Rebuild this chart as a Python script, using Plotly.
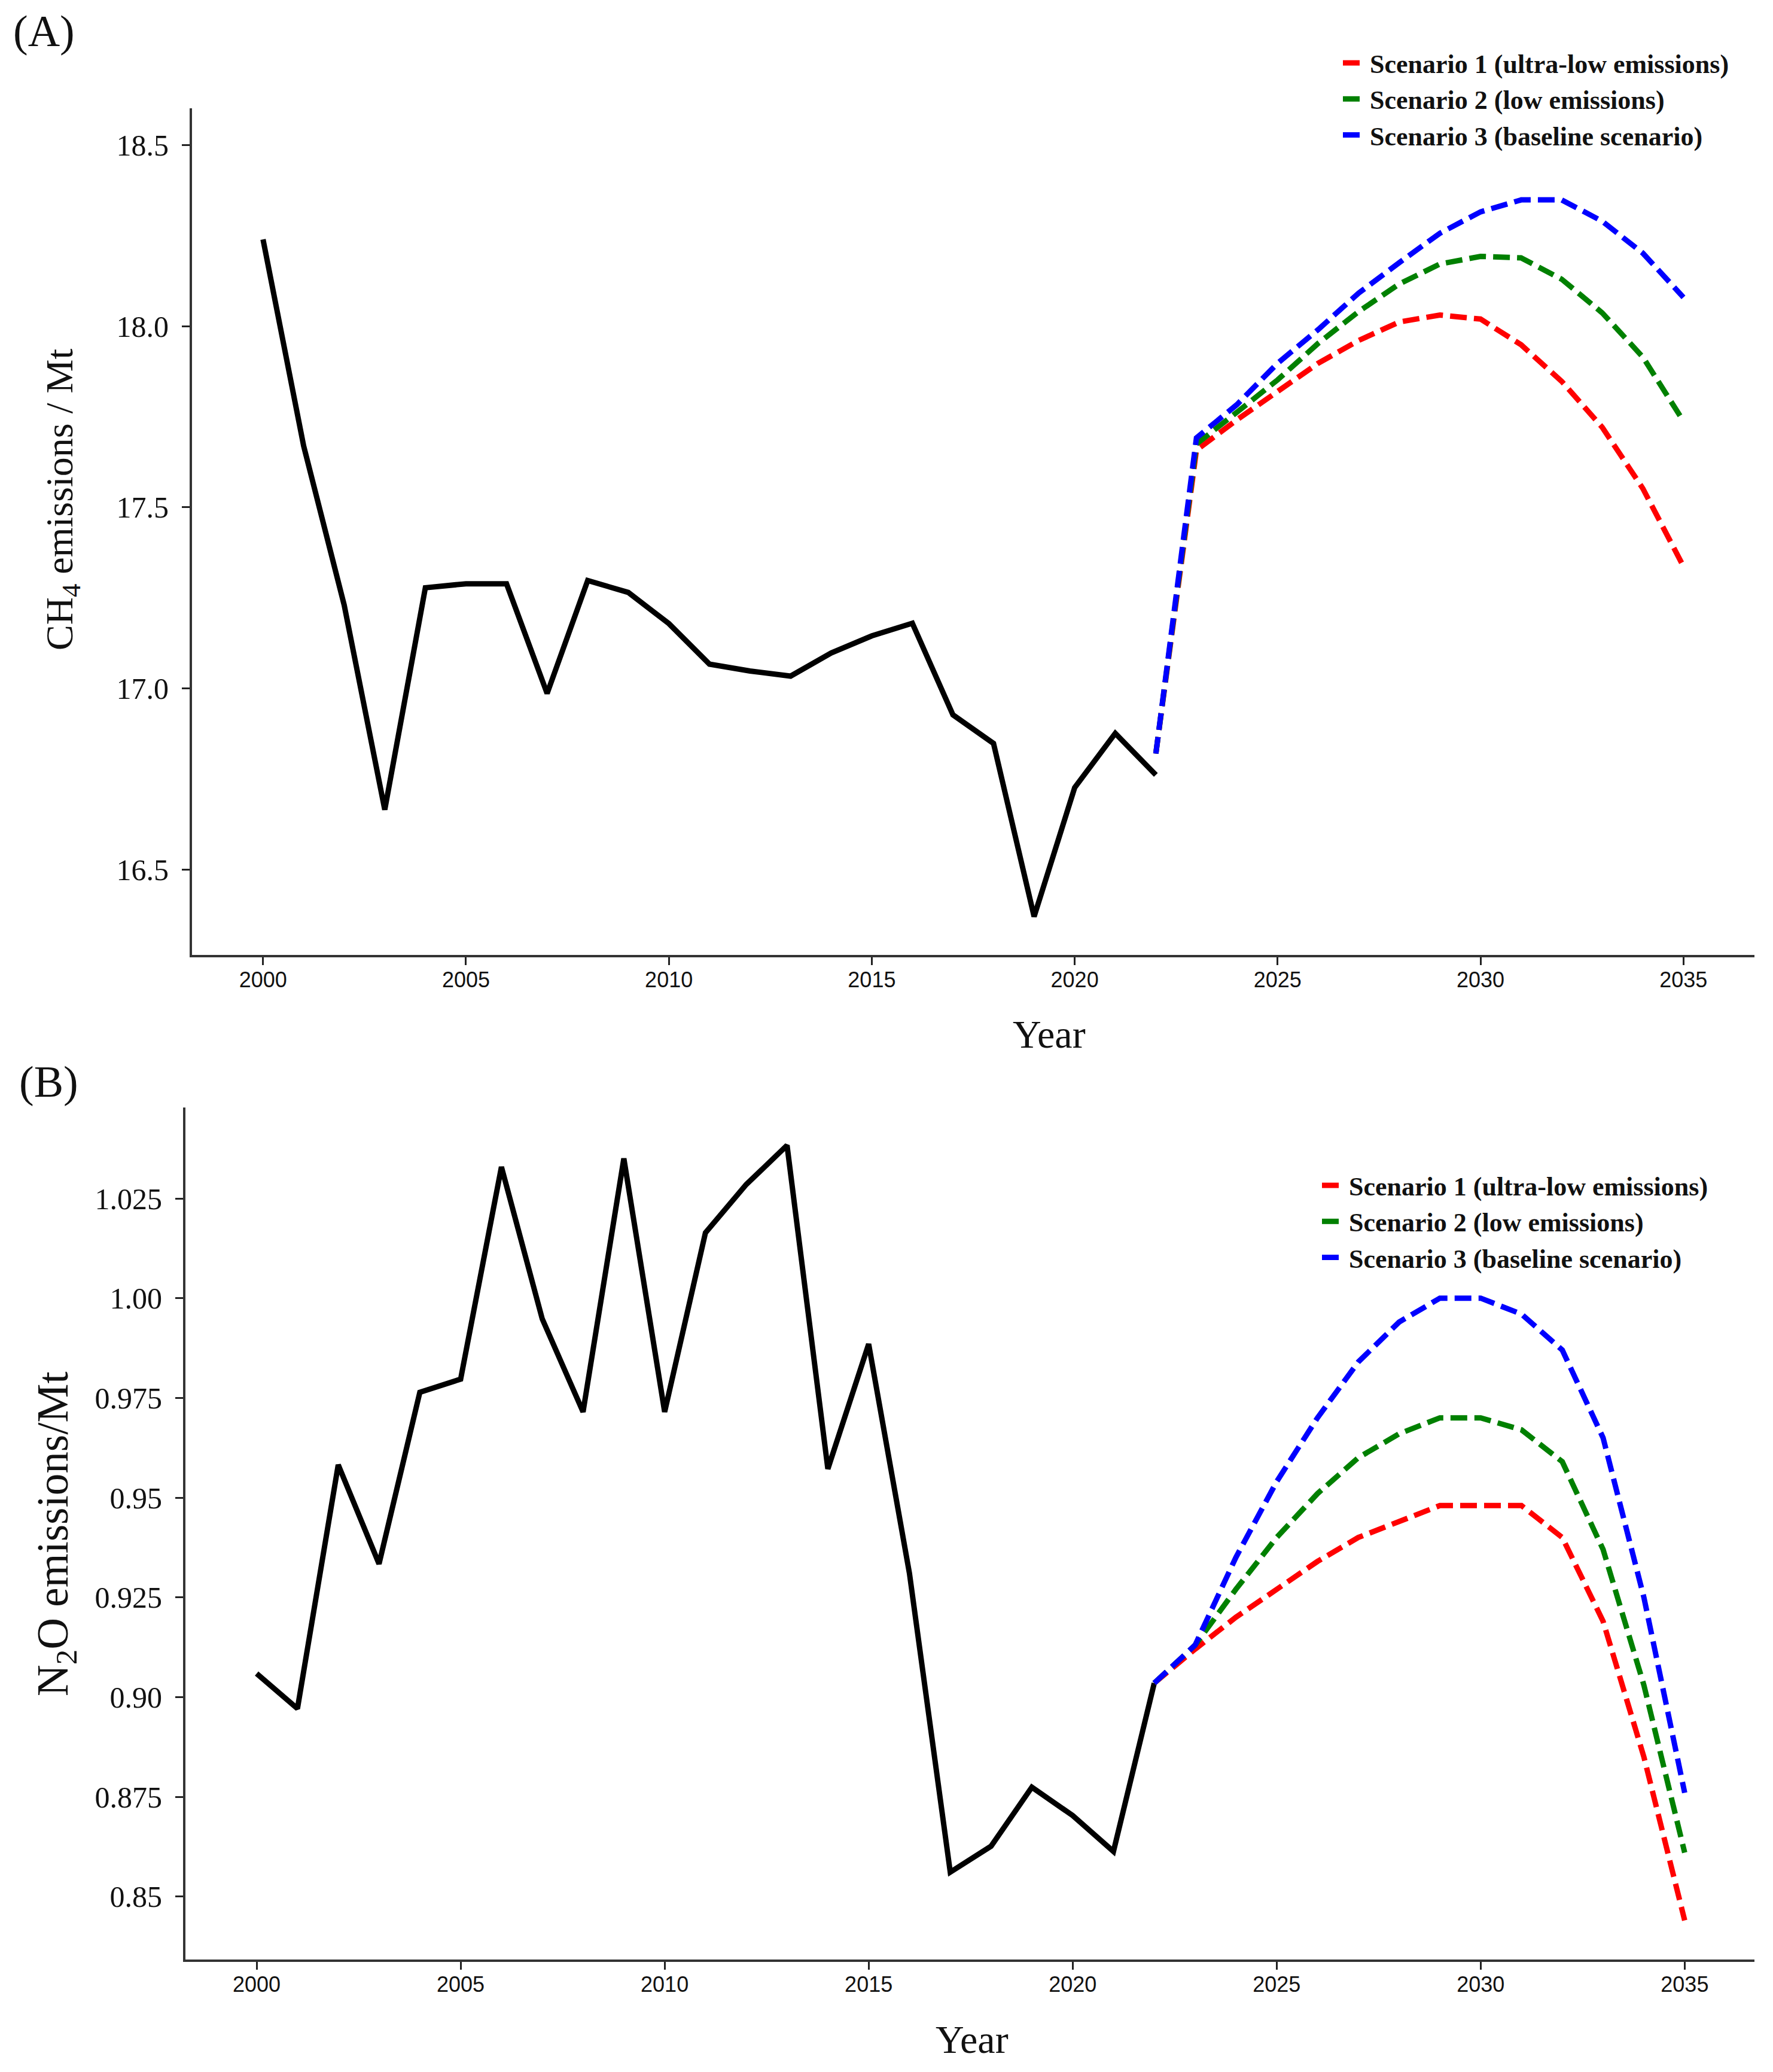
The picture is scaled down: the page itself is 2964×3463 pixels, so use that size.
import plotly.graph_objects as go

# ---------------- data ----------------
years_hist = [2000, 2001, 2002, 2003, 2004, 2005, 2006, 2007, 2008, 2009, 2010, 2011,
              2012, 2013, 2014, 2015, 2016, 2017, 2018, 2019, 2020, 2021, 2022]
years_proj = [2022, 2023, 2024, 2025, 2026, 2027, 2028, 2029, 2030, 2031, 2032, 2033, 2034, 2035]

ch4_hist = [18.24, 17.67, 17.23, 16.665, 17.278, 17.289, 17.289, 16.986, 17.298, 17.265, 17.179, 17.067,
            17.048, 17.034, 17.098, 17.145, 17.180, 16.927, 16.848, 16.370, 16.726, 16.876, 16.761]
ch4_s1 = [16.82, 17.658, 17.742, 17.822, 17.898, 17.961, 18.012, 18.031, 18.020, 17.949, 17.848, 17.721, 17.552, 17.337]
ch4_s2 = [16.82, 17.675, 17.763, 17.852, 17.953, 18.041, 18.117, 18.172, 18.193, 18.189, 18.130, 18.037, 17.915, 17.738]
ch4_s3 = [16.82, 17.692, 17.784, 17.898, 17.991, 18.092, 18.176, 18.257, 18.316, 18.349, 18.349, 18.290, 18.202, 18.080]

n2o_hist = [0.9059, 0.8971, 0.9582, 0.9334, 0.9764, 0.9797, 1.0329, 0.9948, 0.9715, 1.0350, 0.9715, 1.0164,
            1.0285, 1.0383, 0.9572, 0.9885, 0.9310, 0.8561, 0.8626, 0.8774, 0.8703, 0.8613, 0.9035]
n2o_s1 = [0.9035, 0.912, 0.920, 0.927, 0.934, 0.940, 0.944, 0.948, 0.948, 0.948, 0.940, 0.919, 0.885, 0.844]
n2o_s2 = [0.9035, 0.913, 0.927, 0.940, 0.951, 0.960, 0.966, 0.970, 0.970, 0.967, 0.959, 0.937, 0.903, 0.861]
n2o_s3 = [0.9035, 0.913, 0.935, 0.954, 0.970, 0.984, 0.994, 1.000, 1.000, 0.996, 0.987, 0.965, 0.925, 0.876]

scenario_names = ["Scenario 1 (ultra-low emissions)", "Scenario 2 (low emissions)", "Scenario 3 (baseline scenario)"]
scenario_colors = ["#ff0000", "#008000", "#0000ff"]

x_tickvals = [2000, 2005, 2010, 2015, 2020, 2025, 2030, 2035]
x_ticktext = ["2000", "2005", "2010", "2015", "2020", "2025", "2030", "2035"]
ch4_tickvals = [16.5, 17.0, 17.5, 18.0, 18.5]
ch4_ticktext = ["16.5", "17.0", "17.5", "18.0", "18.5"]
n2o_tickvals = [0.85, 0.875, 0.90, 0.925, 0.95, 0.975, 1.00, 1.025]
n2o_ticktext = ["0.85", "0.875", "0.90", "0.925", "0.95", "0.975", "1.00", "1.025"]

x_title = "Year"
ch4_title = "CH<sub>4</sub> emissions / Mt"
n2o_title = "N<sub>2</sub>O emissions/Mt"

# ---------------- figure ----------------
W, H = 2964, 3463
fig = go.Figure()

LW = 9
DASH = "28px,12px"

fig.add_trace(go.Scatter(x=years_hist, y=ch4_hist, mode="lines", line=dict(color="black", width=LW),
                         showlegend=False, xaxis="x", yaxis="y"))
for name, col, vals in zip(scenario_names, scenario_colors, [ch4_s1, ch4_s2, ch4_s3]):
    fig.add_trace(go.Scatter(x=years_proj, y=vals, mode="lines", name=name,
                             line=dict(color=col, width=LW, dash=DASH),
                             xaxis="x", yaxis="y", legend="legend"))

fig.add_trace(go.Scatter(x=years_hist, y=n2o_hist, mode="lines", line=dict(color="black", width=LW),
                         showlegend=False, xaxis="x2", yaxis="y2"))
for name, col, vals in zip(scenario_names, scenario_colors, [n2o_s1, n2o_s2, n2o_s3]):
    fig.add_trace(go.Scatter(x=years_proj, y=vals, mode="lines", name=name,
                             line=dict(color=col, width=LW, dash=DASH),
                             xaxis="x2", yaxis="y2", legend="legend2"))

serif = "Liberation Serif, Times New Roman, serif"
narrow = "Liberation Sans Narrow, Arial Narrow, Liberation Sans, sans-serif"

def xaxis_style(domain, anchor, rng):
    return dict(domain=domain, anchor=anchor, range=rng, tickmode="array",
                tickvals=x_tickvals, ticktext=x_ticktext, ticks="outside", ticklen=13,
                tickwidth=3, tickcolor="#222", showline=True, linecolor="#333", linewidth=4,
                showgrid=False, zeroline=False, automargin=False, ticklabelstandoff=-6,
                tickfont=dict(family=narrow, size=36, color="#111"))

def yaxis_style(domain, anchor, rng, tv, tt):
    return dict(domain=domain, anchor=anchor, range=rng, tickmode="array",
                tickvals=tv, ticktext=tt, ticks="outside", ticklen=13,
                tickwidth=3, tickcolor="#222", showline=True, linecolor="#333", linewidth=4,
                showgrid=False, zeroline=False, automargin=False, ticklabelstandoff=12,
                tickfont=dict(family=serif, size=50, color="#111"))

legend_font = dict(family=serif, size=44, color="#111", weight="bold")

fig.update_layout(
    width=W, height=H,
    margin=dict(l=0, r=0, t=0, b=0),
    paper_bgcolor="white", plot_bgcolor="white",
    xaxis=xaxis_style([321 / W, 2933 / W], "y", [1998.25, 2036.75]),
    yaxis=yaxis_style([1 - 1596 / H, 1 - 181 / H], "x", [16.264, 18.602], ch4_tickvals, ch4_ticktext),
    xaxis2=xaxis_style([310 / W, 2933 / W], "y2", [1998.255, 2036.71]),
    yaxis2=yaxis_style([1 - 3275 / H, 1 - 1851 / H], "x2", [0.8342, 1.0478], n2o_tickvals, n2o_ticktext),
    legend=dict(x=2240 / W, y=1 - 70 / H, xanchor="left", yanchor="top",
                bgcolor="rgba(0,0,0,0)", borderwidth=0, font=legend_font,
                tracegroupgap=0, itemwidth=40),
    legend2=dict(x=2205 / W, y=1 - 1946 / H, xanchor="left", yanchor="top",
                 bgcolor="rgba(0,0,0,0)", borderwidth=0, font=legend_font,
                 tracegroupgap=0, itemwidth=40),
    annotations=[
        dict(text="(A)", x=20 / W, y=1 - 52 / H, xref="paper", yref="paper", xanchor="left", yanchor="middle",
             showarrow=False, font=dict(family=serif, size=74, color="#111")),
        dict(text="(B)", x=30 / W, y=1 - 1808 / H, xref="paper", yref="paper", xanchor="left", yanchor="middle",
             showarrow=False, font=dict(family=serif, size=74, color="#111")),
        dict(text=x_title, x=1754 / W, y=1 - 1729 / H, xref="paper", yref="paper", xanchor="center",
             yanchor="middle", showarrow=False, font=dict(family=serif, size=66, color="#111")),
        dict(text=x_title, x=1625 / W, y=1 - 3408 / H, xref="paper", yref="paper", xanchor="center",
             yanchor="middle", showarrow=False, font=dict(family=serif, size=66, color="#111")),
        dict(text=ch4_title, x=104 / W, y=1 - 835 / H, xref="paper", yref="paper", xanchor="center",
             yanchor="middle", textangle=-90, showarrow=False, font=dict(family=serif, size=64, color="#111")),
        dict(text=n2o_title, x=93 / W, y=1 - 2564 / H, xref="paper", yref="paper", xanchor="center",
             yanchor="middle", textangle=-90, showarrow=False, font=dict(family=serif, size=73, color="#111")),
    ],
)

fig.write_html("out.html")
